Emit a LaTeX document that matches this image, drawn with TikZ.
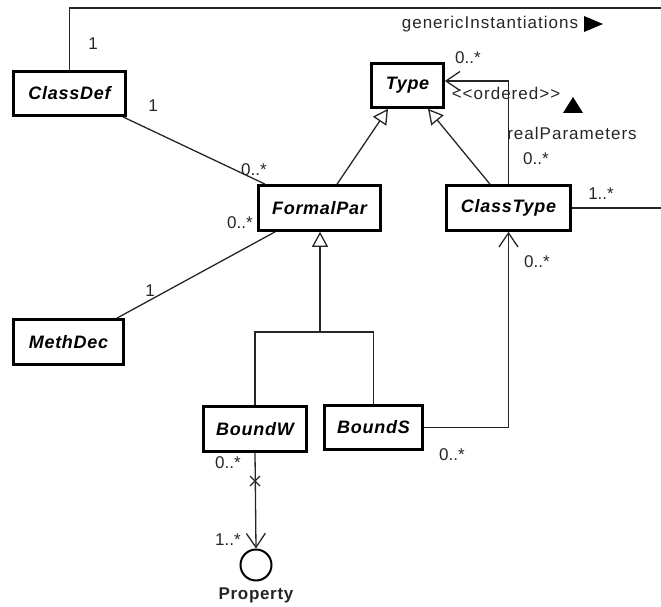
\documentclass[tikz,border=0pt]{standalone}
\usepackage{fontspec}
\setmainfont{Liberation Sans}[Ligatures=NoCommon]
\newfontfamily\lblfont{Liberation Sans}[LetterSpace=6]
\newfontfamily\clsfont{Liberation Sans}[LetterSpace=4]
\newfontfamily\propfont{Liberation Sans}[LetterSpace=4]
\usetikzlibrary{arrows.meta,calc}
\begin{document}
\begin{tikzpicture}[x=1pt,y=-1pt,
  every node/.style={font=\fontsize{17}{20}\selectfont},
  cls/.style={draw,line width=2.6pt,inner sep=0pt,font=\clsfont\fontsize{18}{20}\selectfont\bfseries\itshape},
  conn/.style={line width=1.3pt,draw=black!85},
  gen/.style={conn,-{Triangle[open,length=15pt,width=16pt,line width=1.3pt]}},
  nav/.style={conn,-{Straight Barb[length=14pt,width=19pt,line width=1.3pt]}},
  lbl/.style={inner sep=0pt,text=black!85},
  wlbl/.style={lbl,font=\lblfont\fontsize{17}{20}\selectfont}]
\useasboundingbox (0,0) rectangle (661,607);
% classes
\node[cls,minimum width=112pt,minimum height=44pt] (ClassDef) at (69.5,93.5) {ClassDef};
\node[cls,minimum width=72pt,minimum height=44pt] (Type) at (407.5,85.5) {Type};
\node[cls,minimum width=122pt,minimum height=45pt] (FormalPar) at (319.5,208) {FormalPar};
\node[cls,minimum width=124pt,minimum height=45pt] (ClassType) at (508.5,208) {ClassType};
\node[cls,minimum width=110pt,minimum height=45pt] (MethDec) at (68.5,342) {MethDec};
\node[cls,minimum width=103pt,minimum height=45pt] (BoundW) at (255,429) {BoundW};
\node[cls,minimum width=98pt,minimum height=44pt] (BoundS) at (373.5,427.5) {BoundS};
\node[draw,circle,line width=2pt,minimum size=31pt,inner sep=0pt] (Property) at (256,565) {};
\node[lbl,font=\propfont\fontsize{17}{20}\selectfont\bfseries] (PropLbl) at (256,595) {Property};
% free ends at the right border
\coordinate (gtop) at (661,8);
\coordinate (gright) at (661,208);
\coordinate (jn) at (320,332);
\coordinate (xm) at (255,481);
% genericInstantiations
\draw[conn] (ClassDef.north) |- (gtop);
\draw[conn] (ClassType.east) -- (gright);
% ClassDef -- FormalPar
\draw[conn] ($(ClassDef.south east)+(-4,0)$) -- ($(FormalPar.north west)+(8,0)$);
% generalizations to Type
\draw[gen] ($(FormalPar.north)+(17.5,0)$) -- ($(Type.south)+(-19.5,0)$);
\draw[gen] ($(ClassType.north)+(-18.5,0)$) -- ($(Type.south)+(20.5,0)$);
% realParameters
\draw[nav] (ClassType.north) |- ($(Type.east)+(0,-4.5)$);
% FormalPar -- MethDec
\draw[conn] ($(FormalPar.south west)+(18,0)$) -- ($(MethDec.north east)+(-8,0)$);
% generalization tree
\draw[conn] (BoundW.north) |- (jn) -| (BoundS.north);
\draw[gen] (jn) -- (jn |- FormalPar.south);
% BoundS -> ClassType
\draw[nav] (BoundS.east) -| (ClassType.south);
% BoundW -> Property
\draw[nav] (BoundW.south) -- (Property.north);
\draw[conn] ($(xm)+(-5,-5)$) -- ($(xm)+(5,5)$);
\draw[conn] ($(xm)+(-5,5)$) -- ($(xm)+(5,-5)$);
% labels
\node[lbl] (m1) at (93,44) {1};
\node[lbl] (m2) at (153,106) {1};
\node[lbl] (m3) at (254,170) {0..*};
\node[wlbl] (gi) at (490,24) {genericInstantiations};
\fill[black] (584,16) -- (603,24) -- (584,32) -- cycle;
\node[lbl] (m4) at (468,58) {0..*};
\node[wlbl] (ord) at (506,93) {<{}<ordered>{}>};
\fill[black] (563,113) -- (573,97) -- (583,113) -- cycle;
\node[wlbl] (rp) at (572,133) {realParameters};
\node[lbl] (m5) at (536,159) {0..*};
\node[lbl] (m6) at (601,194) {1..*};
\node[lbl] (m7) at (240,223) {0..*};
\node[lbl] (m8) at (150,291) {1};
\node[lbl] (m9) at (537,262) {0..*};
\node[lbl] (m10) at (452,455) {0..*};
\node[lbl] (m11) at (228,463) {0..*};
\node[lbl] (m12) at (228,540) {1..*};
\end{tikzpicture}
\end{document}
